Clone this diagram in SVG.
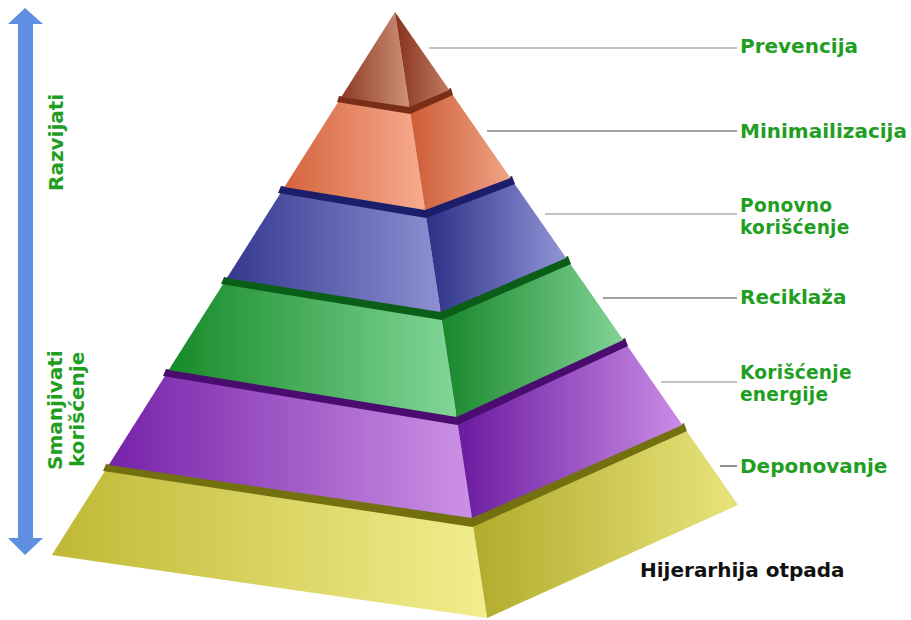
<svg xmlns="http://www.w3.org/2000/svg" width="911" height="620" viewBox="0 0 911 620">
<defs>
<style>
.lbl{font-family:"DejaVu Sans","Verdana",sans-serif;font-weight:bold;font-size:20px;fill:#1f9e22}
.lbl2{font-family:"DejaVu Sans","Verdana",sans-serif;font-weight:bold;font-size:18.6px;letter-spacing:0.25px;fill:#1f9e22}
.ttl{font-family:"DejaVu Sans","Verdana",sans-serif;font-weight:bold;font-size:20px;fill:#111}
.lead{stroke:#8a8a8a;stroke-width:1.2;fill:none}
.lead.dk{stroke:#444}
</style>
<linearGradient id="brF" x1="0" x2="1" y1="0" y2="0"><stop offset="0" stop-color="#8e3b24"/><stop offset="1" stop-color="#cf927a"/></linearGradient>
<linearGradient id="brR" x1="0" x2="1" y1="0" y2="0"><stop offset="0" stop-color="#86321e"/><stop offset="1" stop-color="#c27a62"/></linearGradient>
<linearGradient id="orF" x1="0" x2="1" y1="0" y2="0"><stop offset="0" stop-color="#d5643e"/><stop offset="1" stop-color="#f7ac8e"/></linearGradient>
<linearGradient id="orR" x1="0" x2="1" y1="0" y2="0"><stop offset="0" stop-color="#cd5c36"/><stop offset="1" stop-color="#f0a486"/></linearGradient>
<linearGradient id="blF" x1="0" x2="1" y1="0" y2="0"><stop offset="0" stop-color="#353990"/><stop offset="1" stop-color="#8d90d2"/></linearGradient>
<linearGradient id="blR" x1="0" x2="1" y1="0" y2="0"><stop offset="0" stop-color="#2b2f86"/><stop offset="1" stop-color="#9195d6"/></linearGradient>
<linearGradient id="grF" x1="0" x2="1" y1="0" y2="0"><stop offset="0" stop-color="#168a28"/><stop offset="1" stop-color="#82d698"/></linearGradient>
<linearGradient id="grR" x1="0" x2="1" y1="0" y2="0"><stop offset="0" stop-color="#18862b"/><stop offset="1" stop-color="#82d496"/></linearGradient>
<linearGradient id="puF" x1="0" x2="1" y1="0" y2="0"><stop offset="0" stop-color="#7622a8"/><stop offset="1" stop-color="#cc92e6"/></linearGradient>
<linearGradient id="puR" x1="0" x2="1" y1="0" y2="0"><stop offset="0" stop-color="#6a1a9e"/><stop offset="1" stop-color="#c98ce6"/></linearGradient>
<linearGradient id="yeF" x1="0" x2="1" y1="0" y2="0"><stop offset="0" stop-color="#c0b936"/><stop offset="1" stop-color="#f2ee8e"/></linearGradient>
<linearGradient id="yeR" x1="0" x2="1" y1="0" y2="0"><stop offset="0" stop-color="#b2ab2c"/><stop offset="1" stop-color="#e8e47c"/></linearGradient>
</defs>
<rect width="911" height="620" fill="#ffffff"/>

<g id="arrow">
<polygon points="25,8 43,24 33,24 33,538 43,538 25,555 8,538 18,538 18,24 8,24" fill="#5f8fe2"/>
</g>
<g id="side-labels">
<text class="lbl" transform="translate(63,191) rotate(-90)">Razvijati</text>
<text class="lbl" transform="translate(62,470) rotate(-90)"><tspan x="0" y="0">Smanjivati</tspan><tspan x="3" y="22">korišćenje</tspan></text>
</g>

<g id="tier-yellow">
<polygon points="108.7,465 471.9,518 487.1,618 51.8,555" fill="url(#yeF)"/>
<polygon points="471.9,518 682.4,425 738.1,505 487.1,618" fill="url(#yeR)"/>
<polygon points="106,464 471.9,516 684,423 687,431 472.6,527 103,471" fill="#737010"/>
</g>
<g id="tier-purple">
<polygon points="168.7,370 456.6,417 471.9,518 108.7,465" fill="url(#puF)"/>
<polygon points="456.6,417 623.3,340 682.4,425 471.9,518" fill="url(#puR)"/>
<polygon points="166,369 456.6,415 625,338 628,346 457.4,425 163,376" fill="#4a0c6e"/>
</g>
<g id="tier-green">
<polygon points="226.9,278 440.6,312 456.6,417 168.7,370" fill="url(#grF)"/>
<polygon points="440.6,312 566.2,258 623.3,340 456.6,417" fill="url(#grR)"/>
<polygon points="224,277 440.6,310 568,256 571,264 441.4,320 221,284" fill="#0b5e17"/>
</g>
<g id="tier-blue">
<polygon points="284.4,187 425.1,210 440.6,312 226.9,278" fill="url(#blF)"/>
<polygon points="425.1,210 510.5,178 566.2,258 440.6,312" fill="url(#blR)"/>
<polygon points="281,186 425.1,208 512,176 515,184 426,218 278,193" fill="#1c1e6c"/>
</g>
<g id="tier-orange">
<polygon points="341.3,97 409.4,107 425.1,210 284.4,187" fill="url(#orF)"/>
<polygon points="409.4,107 449.3,90 510.5,178 425.1,210" fill="url(#orR)"/>
<polygon points="339,96 409.4,105 451,88 453,95 410.2,114 337,102" fill="#7a2e18"/>
</g>
<g id="tier-brown">
<polygon points="395,12 409.4,107 341.3,97" fill="url(#brF)"/>
<polygon points="395,12 449.3,90 409.4,107" fill="url(#brR)"/>
</g>

<g id="connectors">
<line class="lead" x1="429" y1="48" x2="737" y2="48"/>
<line class="lead dk" x1="487" y1="131" x2="737" y2="131"/>
<line class="lead" x1="545" y1="214" x2="737" y2="214"/>
<line class="lead dk" x1="603" y1="298" x2="737" y2="298"/>
<line class="lead" x1="661" y1="382" x2="737" y2="382"/>
<line class="lead dk" x1="720" y1="466" x2="737" y2="466"/>
</g>

<g id="label-prevencija"><text class="lbl" x="740" y="53">Prevencija</text></g>
<g id="label-minimailizacija"><text class="lbl" x="740" y="138">Minimailizacija</text></g>
<g id="label-ponovno"><text class="lbl2"><tspan x="740" y="212">Ponovno</tspan><tspan x="740" y="234">korišćenje</tspan></text></g>
<g id="label-reciklaza"><text class="lbl" x="740" y="304">Reciklaža</text></g>
<g id="label-energija"><text class="lbl2"><tspan x="740" y="379">Korišćenje</tspan><tspan x="740" y="401">energije</tspan></text></g>
<g id="label-deponovanje"><text class="lbl" x="740" y="473">Deponovanje</text></g>
<g id="title"><text class="ttl" x="640" y="577">Hijerarhija otpada</text></g>
</svg>
